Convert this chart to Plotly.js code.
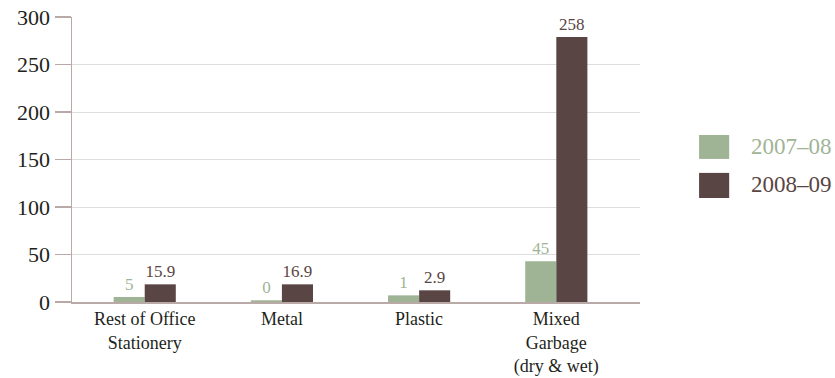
<!DOCTYPE html>
<html>
<head>
<meta charset="utf-8">
<script src="https://cdn.plot.ly/plotly-3.0.1.min.js"></script>
<style>html,body{margin:0;padding:0;background:#fff;}#chart{width:835px;height:378px;}</style>
</head>
<body>
<div id="chart"></div>
<script>
var categories = ["Rest of Office<br>Stationery", "Metal", "Plastic", "Mixed<br>Garbage<br>(dry &amp; wet)"];
var seriesNames = ["2007–08", "2008–09"];
var values0708 = [5.3, 1.8, 7, 43];
var values0809 = [18.6, 18.6, 12.3, 279];
var labels0708 = ["5", "0", "1", "45"];
var labels0809 = ["15.9", "16.9", "2.9", "258"];
var colors = ["#9fb495", "#594543"];
var yTicks = [0, 50, 100, 150, 200, 250, 300];

var font = "'Liberation Serif', 'Times New Roman', 'DejaVu Serif', serif";

var traces = [
  {type: "bar", name: seriesNames[0], x: categories, y: values0708, text: labels0708,
   textposition: "outside", cliponaxis: false, textfont: {family: font, size: 17, color: colors[0]},
   marker: {color: colors[0]}, showlegend: false, hoverinfo: "none"},
  {type: "bar", name: seriesNames[1], x: categories, y: values0809, text: labels0809,
   textposition: "outside", cliponaxis: false, textfont: {family: font, size: 17, color: colors[1]},
   marker: {color: colors[1]}, showlegend: false, hoverinfo: "none"}
];

// legend drawn as paper-referenced swatches + texts
var legendShapes = [], legendAnns = [];
var swY = [[0.502, 0.586], [0.365, 0.453]];
var txY = [0.544, 0.411];
for (var i = 0; i < seriesNames.length; i++) {
  legendShapes.push({type: "rect", xref: "paper", yref: "paper", x0: 1.104, x1: 1.157,
    y0: swY[i][0], y1: swY[i][1], fillcolor: colors[i], line: {width: 0}});
  legendAnns.push({xref: "paper", yref: "paper", x: 1.192, y: txY[i], xanchor: "left", yanchor: "middle",
    text: seriesNames[i], showarrow: false, font: {family: font, size: 23, color: colors[i]}});
}

var layout = {
  width: 835, height: 378,
  margin: {l: 72, r: 195, t: 17, b: 76, pad: 0},
  paper_bgcolor: "#ffffff", plot_bgcolor: "#ffffff",
  font: {family: font, color: "#231f20"},
  barmode: "group", bargap: 0.547, bargroupgap: 0,
  showlegend: false,
  xaxis: {type: "category", range: [-0.53, 3.61], showgrid: false, zeroline: false,
    showline: true, linecolor: "#b9a9a7", linewidth: 1.5, ticks: "",
    tickfont: {family: font, size: 18, color: "#231f20"}, fixedrange: true},
  yaxis: {range: [0, 300], tickvals: yTicks, ticktext: yTicks.map(String),
    showgrid: true, gridcolor: "#dedede", gridwidth: 1, zeroline: false,
    showline: true, linecolor: "#b9a9a7", linewidth: 1.5,
    ticks: "outside", ticklen: 16, tickcolor: "#b9a9a7", tickwidth: 1.5,
    tickfont: {family: font, size: 22, color: "#231f20"}, fixedrange: true},
  shapes: legendShapes,
  annotations: legendAnns
};

Plotly.newPlot("chart", traces, layout, {displayModeBar: false, staticPlot: true});
</script>
</body>
</html>
